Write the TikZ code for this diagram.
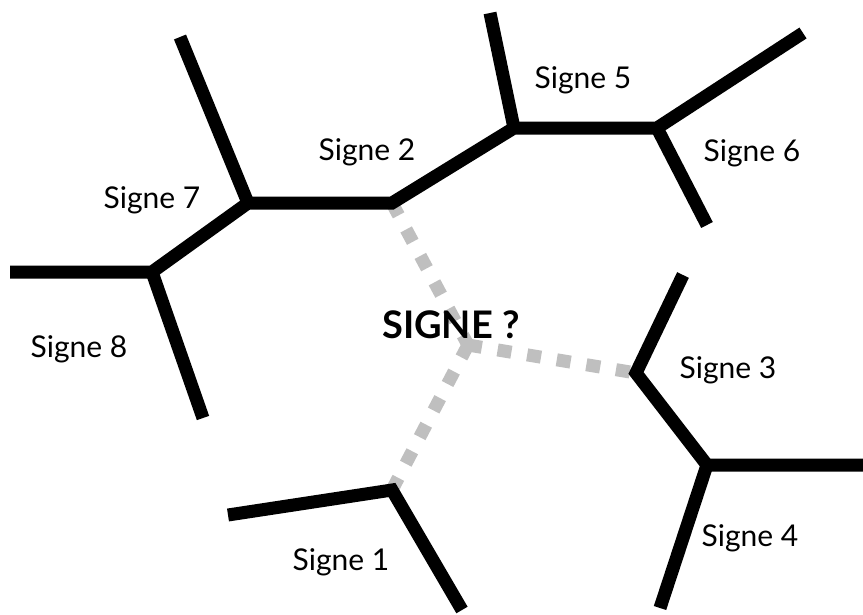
\documentclass[tikz,border=0pt]{standalone}
\usepackage{fontspec}
\setmainfont{Lato}
\tikzset{
  edge/.style={line width=13pt, line join=miter, black},
  link/.style={line width=13pt, draw=black!25, dash pattern=on 14pt off 16pt},
  sign/.style={font=\fontsize{30}{36}\selectfont, inner sep=0pt},
  query/.style={font=\fontsize{38}{45}\selectfont\bfseries, inner sep=0pt}
}
\begin{document}
\begin{tikzpicture}[x=1pt, y=-1pt]
\useasboundingbox (0,0) rectangle (863,614);

% junctions
\coordinate (a) at (10,272);
\coordinate (b) at (152,272);
\coordinate (c) at (248,203);
\coordinate (d) at (180,37);
\coordinate (e) at (392,203);
\coordinate (f) at (514,128);
\coordinate (g) at (490,13);
\coordinate (h) at (657,128);
\coordinate (i) at (803,33);
\coordinate (j) at (707,225);
\coordinate (k) at (203,418);
\coordinate (l) at (228,515);
\coordinate (m) at (392,490);
\coordinate (n) at (462,610);
\coordinate (o) at (683,275);
\coordinate (p) at (636,373);
\coordinate (q) at (707,465);
\coordinate (r) at (863,465);
\coordinate (s) at (660,608);
\coordinate (z) at (468,345);

% dotted links
\draw [link] (e) -- (z);
\draw [link] (z) -- (p);
\draw [link] (z) -- (m);

% borders
\draw [edge] (a) -- (b) -- (c) -- (e) -- (f) -- (h) -- (i);
\draw [edge] (c) -- (d);
\draw [edge] (b) -- (k);
\draw [edge] (f) -- (g);
\draw [edge] (h) -- (j);
\draw [edge] (l) -- (m) -- (n);
\draw [edge] (o) -- (p) -- (q) -- (r);
\draw [edge] (q) -- (s);

% labels
\node (query) at (451,325) [query] {SIGNE ?};
\node (s1) at (341,562) [sign] {Signe 1};
\node (s2) at (367,152) [sign] {Signe 2};
\node (s3) at (728,370) [sign] {Signe 3};
\node (s4) at (750,538) [sign] {Signe 4};
\node (s5) at (583,80) [sign] {Signe 5};
\node (s6) at (752,153) [sign] {Signe 6};
\node (s7) at (152,200) [sign] {Signe 7};
\node (s8) at (79,349) [sign] {Signe 8};

\end{tikzpicture}
\end{document}
